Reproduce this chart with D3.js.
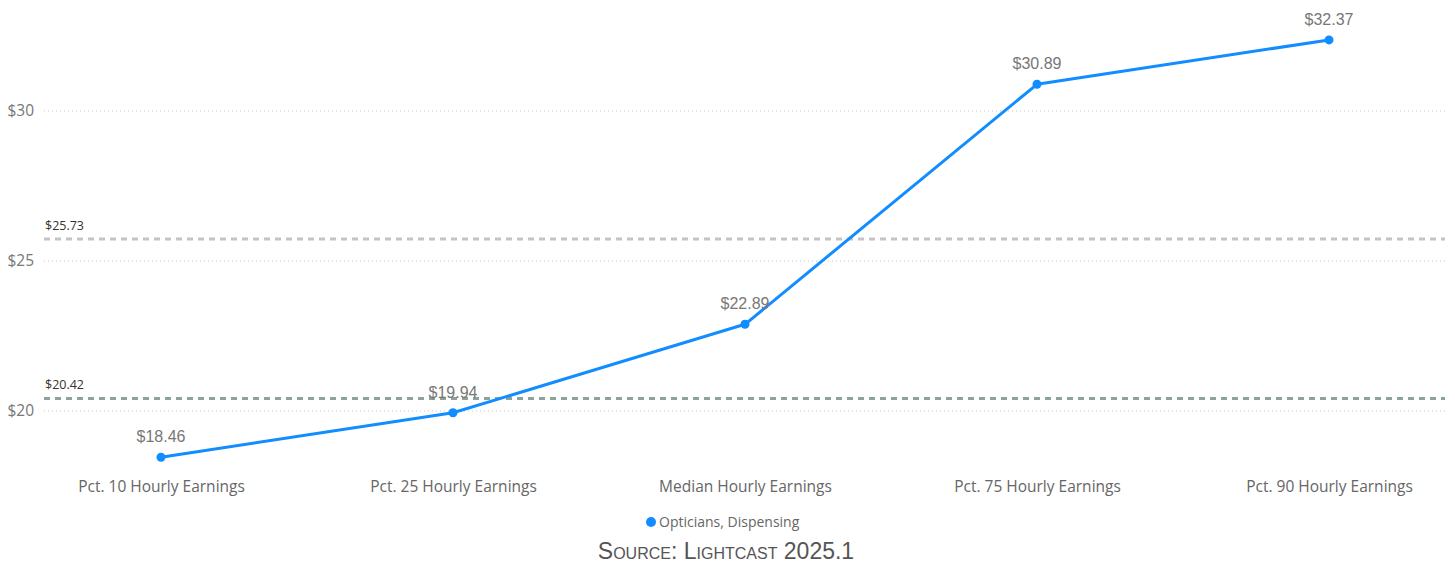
<!DOCTYPE html>
<html>
<head>
<meta charset="utf-8">
<script src="https://cdn.jsdelivr.net/npm/d3@7"></script>
<style>
  html, body { margin: 0; padding: 0; background: #fff; }
  svg { display: block; }
</style>
</head>
<body>
<svg id="chart" width="1455" height="564"></svg>
<script>
// Hourly earnings percentiles for one occupation
const categories = [
  "Pct. 10 Hourly Earnings",
  "Pct. 25 Hourly Earnings",
  "Median Hourly Earnings",
  "Pct. 75 Hourly Earnings",
  "Pct. 90 Hourly Earnings"
];
const earnings = [18.46, 19.94, 22.89, 30.89, 32.37];
const seriesName = "Opticians, Dispensing";
const yTicks = [20, 25, 30];
// Reference lines: value and stroke colour
const refValues = [25.73, 20.42];
const refColors = ["#c4c4c4", "#8ca39c"];
const sourceText = "Source: Lightcast 2025.1";

const svg = d3.select("#chart");
const W = 1455;

const x = d3.scalePoint().domain(categories).range([161, 1329]);
const y = d3.scaleLinear().domain([18, 33]).range([471, 21]);

const gridLeft = 44, gridRight = 1445;
const money = v => "$" + d3.format(".2f")(v);

// Horizontal gridlines
svg.append("g").selectAll("line").data(yTicks).join("line")
  .attr("x1", gridLeft).attr("x2", gridRight)
  .attr("y1", d => y(d)).attr("y2", d => y(d))
  .attr("stroke", "#c8c8c8").attr("stroke-width", 1)
  .attr("stroke-dasharray", "1 3");

// Y axis labels
const yAxis = d3.axisLeft(y).tickValues(yTicks).tickFormat(d => "$" + d).tickSize(0).tickPadding(0);
const gy = svg.append("g").attr("transform", "translate(34,0)").call(yAxis);
gy.select(".domain").remove();
gy.selectAll("text")
  .attr("fill", "#777").attr("font-family", "'Open Sans', 'Noto Sans', sans-serif")
  .attr("font-size", 15.5);

// X axis labels
const xAxis = d3.axisBottom(x).tickSize(0).tickPadding(0);
const gx = svg.append("g").attr("transform", "translate(0,481)").call(xAxis);
gx.select(".domain").remove();
gx.selectAll("text")
  .attr("fill", "#666").attr("font-family", "'Open Sans', 'Noto Sans', sans-serif")
  .attr("font-size", 15.5);

// Reference lines with value labels
const refs = svg.append("g").selectAll("g").data(refValues).join("g");
refs.append("line")
  .attr("x1", gridLeft).attr("x2", gridRight)
  .attr("y1", d => y(d)).attr("y2", d => y(d))
  .attr("stroke", (d, i) => refColors[i]).attr("stroke-width", 3)
  .attr("stroke-dasharray", "6 5");
refs.append("text")
  .attr("x", gridLeft + 1).attr("y", d => y(d) - 9)
  .attr("fill", "#333").attr("font-family", "'Open Sans', 'Noto Sans', sans-serif")
  .attr("font-size", 12.5)
  .text(d => money(d));

// Series line
const line = d3.line().x((d, i) => x(categories[i])).y(d => y(d));
svg.append("path").datum(earnings)
  .attr("d", line).attr("fill", "none")
  .attr("stroke", "#118DFF").attr("stroke-width", 3)
  .attr("stroke-linejoin", "round");

// Markers
svg.append("g").selectAll("circle").data(earnings).join("circle")
  .attr("cx", (d, i) => x(categories[i])).attr("cy", d => y(d))
  .attr("r", 4.5).attr("fill", "#118DFF");

// Data labels
svg.append("g").selectAll("text").data(earnings).join("text")
  .attr("x", (d, i) => x(categories[i])).attr("y", d => y(d) - 15)
  .attr("text-anchor", "middle")
  .attr("fill", "#777").attr("font-family", "'Liberation Sans', Arial, sans-serif")
  .attr("font-size", 16)
  .text(d => money(d));

// Legend
const legend = svg.append("g").attr("transform", "translate(651,522)");
legend.append("circle").attr("r", 5).attr("fill", "#118DFF");
legend.append("text").attr("x", 8).attr("dy", "0.35em")
  .attr("fill", "#666").attr("font-family", "'Open Sans', 'Noto Sans', sans-serif")
  .attr("font-size", 14)
  .text(seriesName);

// Source note in small caps
svg.append("text")
  .attr("x", 726).attr("y", 559).attr("text-anchor", "middle")
  .attr("fill", "#555").attr("font-family", "'Liberation Sans', Arial, sans-serif")
  .attr("font-size", 23).style("font-variant", "small-caps")
  .text(sourceText);
</script>
</body>
</html>
